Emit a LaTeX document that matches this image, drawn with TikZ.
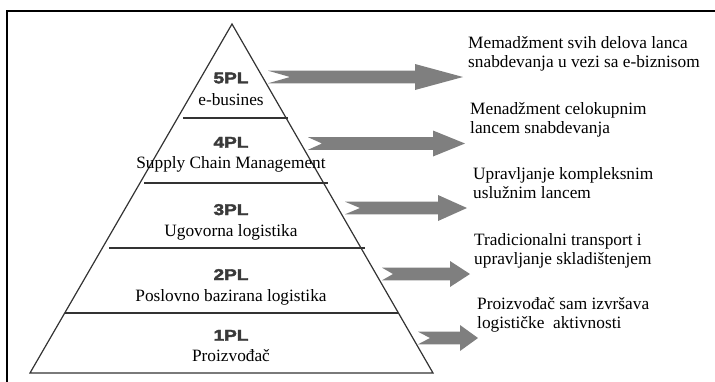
\documentclass[tikz,border=0pt]{standalone}
\usepackage{fontspec}
\setmainfont{Liberation Serif}
\newfontfamily\plfont[FakeStretch=1.22,BoldFeatures={FakeBold=2.5}]{Liberation Sans}
\usepackage{xcolor}
\usetikzlibrary{positioning}
\definecolor{arrowgray}{HTML}{7F7F7F}
\definecolor{linegray}{HTML}{333333}
\definecolor{plgray}{HTML}{3A3A3A}
\newcommand{\lvlarrow}[5]{% y, tail, notch, head base, tip
  \fill[arrowgray] (#2,#1-6.3) -- (#4,#1-6.3) -- (#4,#1-13) -- (#5,#1)
    -- (#4,#1+13) -- (#4,#1+6.3) -- (#2,#1+6.3) -- (#3,#1) -- cycle;}

\begin{document}
\begin{tikzpicture}[
  x=1pt, y=-1pt,
  every node/.style = {inner sep=0pt},
  pyr/.style = {draw=linegray, line width=1.2pt},
  pltag/.style = {anchor=base, text=plgray, font=\plfont\bfseries\fontsize{15.6}{18}\selectfont},
  lvl/.style = {anchor=base, font=\fontsize{17.3}{19}\selectfont},
  desc/.style = {anchor=base west, align=left, font=\fontsize{17.3}{19}\selectfont}
]
  \useasboundingbox (0,0) rectangle (715,381);
  \draw[line width=2pt] (716,11) -- (7,11) -- (7,382);

  % pyramid
  \draw[pyr] (232,24) -- (433,373) -- (30,373) -- cycle;
  \draw[pyr] (183,118) -- (288,118);
  \draw[pyr] (144,183) -- (328,183);
  \draw[pyr] (109,248) -- (365,248);
  \draw[pyr] (65,313) -- (398,313);

  \node[pltag] (pl5) at (231,83.3) {5PL};
  \node[lvl] (lv5) at (231,105) {e-busines};
  \node[pltag] (pl4) at (231,147.7) {4PL};
  \node[lvl] (lv4) at (231,168.3) {Supply Chain Management};
  \node[pltag] (pl3) at (231,215) {3PL};
  \node[lvl] (lv3) at (231,236.7) {Ugovorna logistika};
  \node[pltag] (pl2) at (231,280) {2PL};
  \node[lvl] (lv2) at (231,301.7) {Poslovno bazirana logistika};
  \node[pltag] (pl1) at (231,340.7) {1PL};
  \node[lvl] (lv1) at (231,361.7) {Proizvođač};

  % arrows
  \lvlarrow{77}{268}{290}{415}{463}
  \lvlarrow{143.5}{308}{322}{433}{465}
  \lvlarrow{208}{345}{360}{438}{467}
  \lvlarrow{274}{382}{393}{450}{470}
  \lvlarrow{338}{418}{430}{460}{478}

  \node[desc] (d5) at (468,67) {Memadžment svih delova lanca\\snabdevanja u vezi sa e-biznisom};
  \node[desc] (d4) at (470,133.5) {Menadžment celokupnim\\lancem snabdevanja};
  \node[desc] (d3) at (473,198) {Upravljanje kompleksnim\\uslužnim lancem};
  \node[desc] (d2) at (474,264) {Tradicionalni transport i\\upravljanje skladištenjem};
  \node[desc] (d1) at (477,328) {Proizvođač sam izvršava\\logističke~~aktivnosti};
\end{tikzpicture}
\end{document}
